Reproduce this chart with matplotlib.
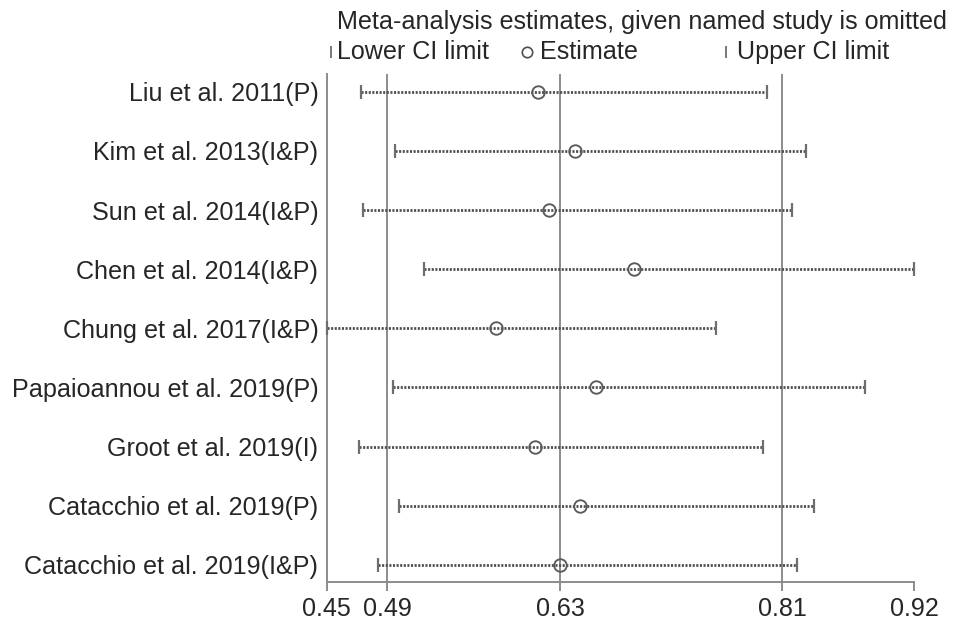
"""Leave-one-out sensitivity plot (Stata metaninf style)."""

import matplotlib
matplotlib.use("Agg")
import matplotlib.pyplot as plt
from matplotlib.lines import Line2D

plt.rcParams["font.family"] = ["Liberation Sans", "DejaVu Sans"]

# study omitted -> pooled estimate and 95% CI of the remaining studies
studies = [
    "Liu et al. 2011(P)",
    "Kim et al. 2013(I&P)",
    "Sun et al. 2014(I&P)",
    "Chen et al. 2014(I&P)",
    "Chung et al. 2017(I&P)",
    "Papaioannou et al. 2019(P)",
    "Groot et al. 2019(I)",
    "Catacchio et al. 2019(P)",
    "Catacchio et al. 2019(I&P)",
]
lower = [0.4736, 0.5011, 0.4752, 0.5238, 0.4460, 0.4995, 0.4717, 0.5043, 0.4869]
estimate = [0.6153, 0.6454, 0.6242, 0.6930, 0.5820, 0.6622, 0.6129, 0.6496, 0.6333]
upper = [0.7995, 0.8308, 0.8200, 0.9180, 0.7590, 0.8781, 0.7967, 0.8369, 0.8240]

# overall (all studies) estimate and CI -> reference lines
overall = [0.4945, 0.6333, 0.8117]

TXT = "#262626"
GRID = "#8c8c8c"
MARK = "#4f4f4f"
CAP = "#6e6e6e"
FS = 18.1

fig = plt.figure(figsize=(9.69, 6.32), dpi=100)
ax = fig.add_axes([326.7 / 969, 1 - 582.3 / 632, 587.8 / 969, 508.3 / 632])

for v in overall:
    ax.axvline(v, color=GRID, lw=1.4, zorder=1)

ys = list(range(len(studies)))
for y, lo, est, hi in zip(ys, lower, estimate, upper):
    ax.plot([lo, hi], [y, y], color=MARK, lw=2.0, linestyle=(0, (0.75, 0.55)),
            zorder=2, clip_on=False)
ax.plot(lower, ys, linestyle="none", marker="|", ms=10, mew=1.6, color=CAP,
        zorder=3, clip_on=False)
ax.plot(upper, ys, linestyle="none", marker="|", ms=10, mew=1.6, color=CAP,
        zorder=3, clip_on=False)
ax.plot(estimate, ys, linestyle="none", marker="o", ms=9, mfc="none", mec="#5a5a5a",
        mew=1.35, zorder=4, clip_on=False)

lo_all, hi_all = min(lower), max(upper)
ax.set_xlim(lo_all, hi_all)
ax.set_ylim(8.293, -0.299)

ticks = [lo_all] + overall + [hi_all]
ax.set_xticks(ticks)
ax.set_xticklabels([f"{t:.2f}" for t in ticks])
ax.set_yticks(ys)
ax.set_yticklabels(studies)

for side in ("top", "right"):
    ax.spines[side].set_visible(False)
for side in ("left", "bottom"):
    ax.spines[side].set_color(GRID)
    ax.spines[side].set_linewidth(1.4)
ax.tick_params(axis="x", direction="out", length=6.5, width=1.4, color=GRID,
               labelsize=FS, labelcolor=TXT, pad=4)
ax.tick_params(axis="y", length=0, labelsize=FS, labelcolor=TXT, pad=6)

# legend block drawn by hand (Stata-like layout)
fig.text(337 / 969, 1 - 22 / 632, "Meta-analysis estimates, given named study is omitted",
         ha="left", va="center", fontsize=FS, color=TXT)
ly = 1 - 52 / 632
fig.add_artist(Line2D([330.7 / 969], [ly], marker="|", ms=9, mew=1.3, color=CAP,
                      transform=fig.transFigure))
fig.text(336.7 / 969, ly, "Lower CI limit", ha="left", va="center", fontsize=FS, color=TXT)
fig.add_artist(Line2D([527 / 969], [ly], marker="o", ms=7.5, mfc="none", mec=MARK,
                      mew=1.2, transform=fig.transFigure))
fig.text(540 / 969, ly, "Estimate", ha="left", va="center", fontsize=FS, color=TXT)
fig.add_artist(Line2D([726 / 969], [ly], marker="|", ms=9, mew=1.3, color=CAP,
                      transform=fig.transFigure))
fig.text(737 / 969, ly, "Upper CI limit", ha="left", va="center", fontsize=FS, color=TXT)

fig.savefig("out.png", dpi=100)
